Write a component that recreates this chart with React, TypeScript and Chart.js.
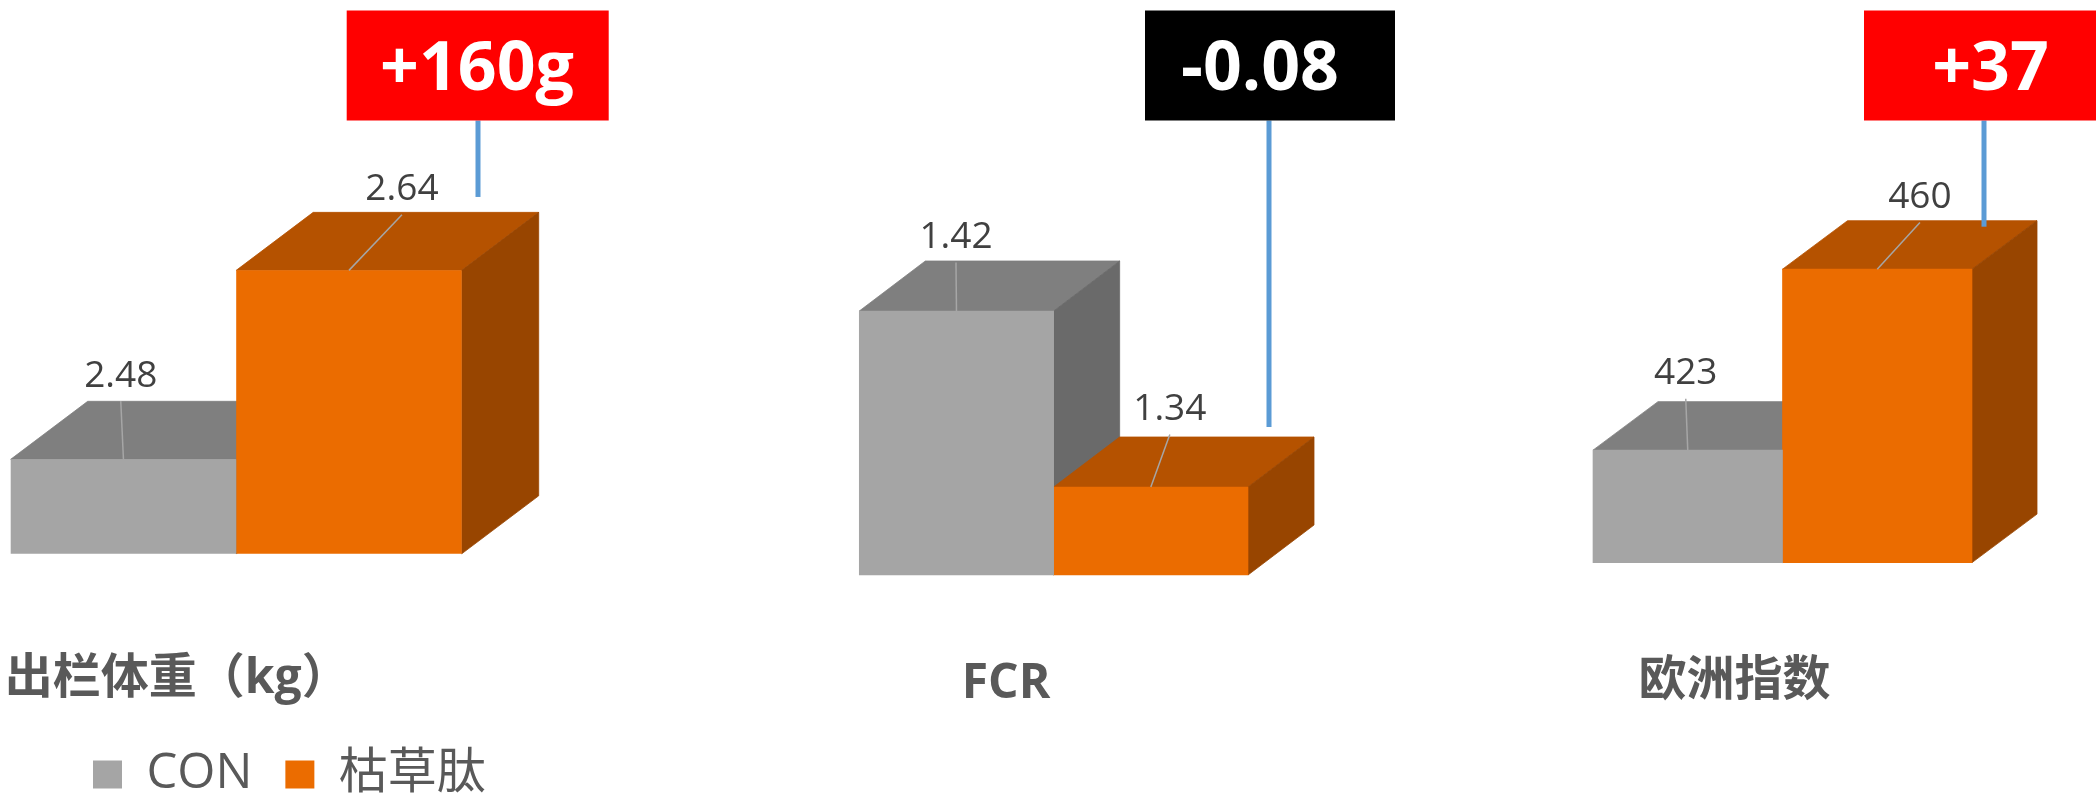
import React, { useEffect, useRef } from 'react';
import { Chart, registerables } from 'chart.js';

Chart.register(...registerables);

// ---- data ----
const seriesNames = ['CON', '枯草肽'];
const metricNames = ['出栏体重（kg）', 'FCR', '欧洲指数'];
const conValues = [2.48, 1.42, 423];
const peptideValues = [2.64, 1.34, 460];
const valueDecimals = [2, 2, 0];
const axisMin = [2.4, 1.3, 400];
const axisMax = [2.7, 1.45, 470];
const diffLabels = ['+160g', '-0.08', '+37'];

// ---- styling ----
const FRONT = ['#A5A5A5', '#EB6C00'];
const TOP = ['#7F7F7F', '#B55200'];
const SIDE = ['#6A6A6A', '#984500'];
const CALLOUT_FILL = ['#FF0000', '#000000', '#FF0000'];
const LINK_BLUE = '#5B9BD5';
const FAMILY = '"Open Sans", "Noto Sans CJK SC", sans-serif';
const PAGE_W = 2096;

interface PanelLayout {
  canvasH: number;
  padLeft: number;
  padRight: number;
  padTop: number;
  rightAxisW: number;
  catPct: number;
  axisH: number;
  tickPad: number;
  labelOffset: number;
  depthX: number;
  depthY: number;
  valueLabelPos: { dx: number; rise: number }[];
  callout: { lineDx: number; endDy: number; boxLeft: number; boxW: number; textDx: number };
  legend: boolean;
}

// placement of each of the three 3-D panels on the page
const layouts: PanelLayout[] = [
  {
    canvasH: 809, padLeft: 60, padRight: 0, padTop: 199.5, rightAxisW: 1683.6, catPct: 1.2798,
    axisH: 163.2, tickPad: 97, labelOffset: -59, depthX: 77, depthY: -58,
    valueLabelPos: [{ dx: -2.7, rise: 28.3 }, { dx: 53, rise: 25.7 }],
    callout: { lineDx: 16.3, endDy: -15.4, boxLeft: 131.3, boxW: 262, textDx: -1 },
    legend: true,
  },
  {
    canvasH: 795, padLeft: 859.3, padRight: 848, padTop: 245, rightAxisW: 0, catPct: 1,
    axisH: 220, tickPad: 80.5, labelOffset: -47.6, depthX: 66, depthY: -50,
    valueLabelPos: [{ dx: -0.5, rise: 26.5 }, { dx: 19, rise: 30.5 }],
    callout: { lineDx: 21, endDy: -10, boxLeft: 124, boxW: 250, textDx: -9 },
    legend: false,
  },
  {
    canvasH: 795, padLeft: 1593, padRight: 124, padTop: 220.3, rightAxisW: 0, catPct: 1,
    axisH: 232.4, tickPad: 89.5, labelOffset: -48, depthX: 65, depthY: -48.5,
    valueLabelPos: [{ dx: -2, rise: 30.8 }, { dx: 42.7, rise: 26.3 }],
    callout: { lineDx: 12, endDy: 6, boxLeft: 120, boxW: 262, textDx: 6.5 },
    legend: false,
  },
];

function barGeom(chart: any, dsIndex: number) {
  const bar: any = chart.getDatasetMeta(dsIndex).data[0];
  const { x, y, base, width } = bar.getProps(['x', 'y', 'base', 'width'], true);
  return { x, y, base, width, left: x - width / 2, right: x + width / 2 };
}

// top and right faces of each box, painted before the front faces
function facesPlugin(lay: PanelLayout) {
  return {
    id: 'boxFaces',
    beforeDatasetsDraw(chart: any) {
      const ctx = chart.ctx;
      const dx = lay.depthX;
      const dy = lay.depthY;
      ctx.save();
      ctx.lineWidth = 0.8;
      chart.data.datasets.forEach((_ds: any, i: number) => {
        const g = barGeom(chart, i);
        ctx.fillStyle = TOP[i];
        ctx.strokeStyle = TOP[i];
        ctx.beginPath();
        ctx.moveTo(g.left, g.y);
        ctx.lineTo(g.left + dx, g.y + dy);
        ctx.lineTo(g.right + dx, g.y + dy);
        ctx.lineTo(g.right, g.y);
        ctx.closePath();
        ctx.fill();
        ctx.stroke();
        ctx.fillStyle = SIDE[i];
        ctx.strokeStyle = SIDE[i];
        ctx.beginPath();
        ctx.moveTo(g.right, g.y);
        ctx.lineTo(g.right + dx, g.y + dy);
        ctx.lineTo(g.right + dx, g.base + dy);
        ctx.lineTo(g.right, g.base);
        ctx.closePath();
        ctx.fill();
        ctx.stroke();
      });
      ctx.restore();
    },
  };
}

// value labels with leader lines onto the top face
function valueLabelPlugin(lay: PanelLayout, panel: number) {
  return {
    id: 'valueLabels',
    afterDatasetsDraw(chart: any) {
      const ctx = chart.ctx;
      ctx.save();
      chart.data.datasets.forEach((ds: any, i: number) => {
        const g = barGeom(chart, i);
        const pos = lay.valueLabelPos[i];
        const lx = g.x + pos.dx;
        const mid = g.y + lay.depthY - pos.rise;
        ctx.strokeStyle = '#A6A6A6';
        ctx.lineWidth = 1.5;
        ctx.beginPath();
        ctx.moveTo(lx, mid + 28);
        ctx.lineTo(g.x, g.y);
        ctx.stroke();
        ctx.fillStyle = '#404040';
        ctx.font = `37px ${FAMILY}`;
        ctx.textAlign = 'center';
        ctx.textBaseline = 'alphabetic';
        ctx.fillText(Number(ds.data[0]).toFixed(valueDecimals[panel]), lx, mid + 13.5);
      });
      ctx.restore();
    },
  };
}

// difference call-out box linked to the second bar
function calloutPlugin(lay: PanelLayout, panel: number) {
  return {
    id: 'diffCallout',
    afterDraw(chart: any) {
      const ctx = chart.ctx;
      const g = barGeom(chart, 1);
      const c = lay.callout;
      const lineX = g.right + c.lineDx;
      const boxTop = 10.5;
      const boxH = 110;
      ctx.save();
      ctx.strokeStyle = LINK_BLUE;
      ctx.lineWidth = 5;
      ctx.beginPath();
      ctx.moveTo(lineX, boxTop + boxH);
      ctx.lineTo(lineX, g.y + lay.depthY + c.endDy);
      ctx.stroke();
      ctx.fillStyle = CALLOUT_FILL[panel];
      ctx.fillRect(lineX - c.boxLeft, boxTop, c.boxW, boxH);
      ctx.fillStyle = '#FFFFFF';
      ctx.font = `bold 68px ${FAMILY}`;
      ctx.textAlign = 'center';
      ctx.textBaseline = 'alphabetic';
      ctx.fillText(diffLabels[panel], lineX + c.textDx, 90);
      ctx.restore();
    },
  };
}

function Panel3D({ panel }: { panel: number }) {
  const ref = useRef<HTMLCanvasElement>(null);
  const lay = layouts[panel];

  useEffect(() => {
    const canvas = ref.current;
    if (!canvas) return;
    const chart = new Chart(canvas, {
      type: 'bar',
      data: {
        labels: [metricNames[panel]],
        datasets: [
          {
            label: seriesNames[0],
            data: [conValues[panel]],
            base: axisMin[panel],
            backgroundColor: FRONT[0],
            borderWidth: 0,
            barPercentage: 1,
            categoryPercentage: lay.catPct,
            clip: false as any,
          },
          {
            label: seriesNames[1],
            data: [peptideValues[panel]],
            base: axisMin[panel],
            backgroundColor: FRONT[1],
            borderWidth: 0,
            barPercentage: 1,
            categoryPercentage: lay.catPct,
            clip: false as any,
          },
        ],
      },
      options: {
        responsive: false,
        animation: false,
        devicePixelRatio: 1,
        events: [],
        layout: {
          autoPadding: false,
          padding: { left: lay.padLeft, right: lay.padRight, top: lay.padTop, bottom: 0 },
        },
        plugins: {
          legend: lay.legend
            ? {
                display: true,
                position: 'bottom',
                align: 'start',
                labels: {
                  boxWidth: 29,
                  boxHeight: 28,
                  padding: 33,
                  color: '#595959',
                  font: { family: FAMILY, size: 49 },
                },
              }
            : { display: false },
          tooltip: { enabled: false },
        },
        scales: {
          x: {
            grid: { display: false, drawTicks: false },
            border: { display: false },
            ticks: {
              color: '#595959',
              font: { family: FAMILY, size: 48, weight: 'bold' },
              padding: lay.tickPad,
              labelOffset: lay.labelOffset,
              maxRotation: 0,
              minRotation: 0,
              autoSkip: false,
            },
            afterFit: (s: any) => {
              // fixed band under the boxes; no extra side padding for the label
              s.height = lay.axisH;
              s.paddingLeft = 0;
              s.paddingRight = 0;
            },
          },
          y: {
            min: axisMin[panel],
            max: axisMax[panel],
            position: 'right',
            display: lay.rightAxisW > 0,
            ticks: { display: false },
            grid: { display: false, drawTicks: false },
            border: { display: false },
            afterFit: (s: any) => {
              if (lay.rightAxisW > 0) s.width = lay.rightAxisW;
            },
          },
        },
      } as any,
      plugins: [facesPlugin(lay), valueLabelPlugin(lay, panel), calloutPlugin(lay, panel)],
    });
    return () => chart.destroy();
  }, [panel]);

  return (
    <canvas
      ref={ref}
      width={PAGE_W}
      height={lay.canvasH}
      style={{ position: 'absolute', left: 0, top: 0, width: `${PAGE_W}px`, height: `${lay.canvasH}px` }}
    />
  );
}

export default function App() {
  return (
    <div
      style={{
        position: 'fixed',
        left: 0,
        top: 0,
        width: `${PAGE_W}px`,
        height: '795px',
        overflow: 'hidden',
        background: '#FFFFFF',
      }}
    >
      {layouts.map((_l, i) => (
        <Panel3D key={i} panel={i} />
      ))}
    </div>
  );
}
